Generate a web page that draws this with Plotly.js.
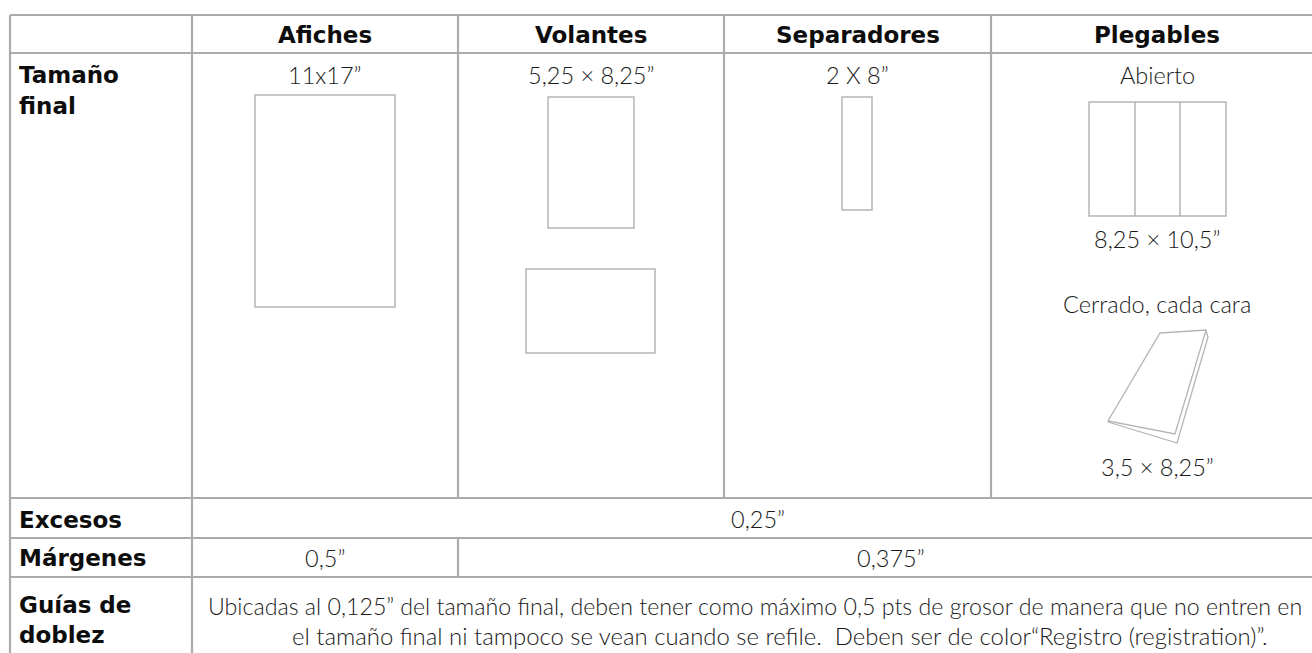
<!DOCTYPE html>
<html><head><meta charset="utf-8">
<script src="https://cdn.plot.ly/plotly-3.0.1.min.js"></script>
<style>html,body{margin:0;padding:0;background:#fff;overflow:hidden}</style>
</head><body><div id="chart" style="width:1312px;height:653px"></div>
<script>
// ---- content ----
const columns = ['Afiches', 'Volantes', 'Separadores', 'Plegables'];
const rowLabels = [['Tamaño', 'final'], ['Excesos'], ['Márgenes'], ['Guías de', 'doblez']];
const sizeLabels = ['11x17”', '5,25 × 8,25”', '2 X 8”', 'Abierto'];
const plegablesLabels = ['8,25 × 10,5”', 'Cerrado, cada cara', '3,5 × 8,25”'];
const excesosValue = '0,25”';
const margenesValues = ['0,5”', '0,375”'];
const guiasText = [
  'Ubicadas al 0,125” del tamaño final, deben tener como máximo 0,5 pts de grosor de manera que no entren en',
  'el tamaño final ni tampoco se vean cuando se refile.&nbsp; Deben ser de color“Registro (registration)”.'
];

// ---- layout geometry (pixels) ----
const W = 1312, H = 653;
const colEdges = [10, 192, 458, 724, 991, 1323];
const rowEdges = [15, 53, 498, 538, 577, 700];
const gridColor = '#ababab', figColor = '#b5b5b5';
const boldFont = {family: 'DejaVu Sans', size: 23, color: '#0d0d0d', weight: 700};
const lightFont = {family: 'Lato', size: 23.5, color: '#1a1a1a', weight: 300};
const bodyFont = {family: 'Lato', size: 23.2, color: '#1a1a1a', weight: 300};
const bodyFont2 = {family: 'Lato', size: 23.9, color: '#1a1a1a', weight: 300};

const shapes = [];
function line(x0, y0, x1, y1, c, w) {
  shapes.push({type: 'line', xref: 'x', yref: 'y', x0, y0, x1, y1, line: {color: c, width: w}});
}
function rect(x0, y0, x1, y1) {
  shapes.push({type: 'rect', xref: 'x', yref: 'y', x0, y0, x1, y1, line: {color: figColor, width: 1.5}});
}
function path(p) {
  shapes.push({type: 'path', xref: 'x', yref: 'y', path: p, line: {color: figColor, width: 1.3}});
}
// horizontal grid
for (let i = 0; i < rowEdges.length - 1; i++) line(colEdges[0], rowEdges[i], colEdges[5], rowEdges[i], gridColor, 2.2);
// vertical grid
line(colEdges[0], rowEdges[0], colEdges[0], rowEdges[5], gridColor, 2.2);
line(colEdges[1], rowEdges[0], colEdges[1], rowEdges[5], gridColor, 2.2);
line(colEdges[2], rowEdges[0], colEdges[2], rowEdges[2], gridColor, 2.2);
line(colEdges[2], rowEdges[3], colEdges[2], rowEdges[4], gridColor, 2.2);
line(colEdges[3], rowEdges[0], colEdges[3], rowEdges[2], gridColor, 2.2);
line(colEdges[4], rowEdges[0], colEdges[4], rowEdges[2], gridColor, 2.2);
line(colEdges[5], rowEdges[0], colEdges[5], rowEdges[5], gridColor, 2.2);

// size diagrams
rect(255, 95, 395, 307);           // Afiches
rect(548, 97, 634, 228);           // Volantes vertical
rect(526, 269, 655, 353);          // Volantes horizontal
rect(842, 97, 872, 210);           // Separadores
rect(1089, 102, 1226, 216);        // Plegables abierto
line(1135, 102, 1135, 216, figColor, 1.5);
line(1180, 102, 1180, 216, figColor, 1.5);
path('M1160,333 L1206,330 L1175,434 L1108,421 Z');   // cerrado (front)
path('M1206,331 L1208,337 L1177,443 L1108,422');      // cerrado (back)

// ---- annotations ----
const ann = [];
function txt(x, y, t, font, xanchor) {
  ann.push({x, y, xref: 'x', yref: 'y', text: t, showarrow: false, font,
            xanchor: xanchor || 'center', yanchor: 'middle'});
}
const centers = [];
for (let i = 1; i < 5; i++) centers.push((colEdges[i] + colEdges[i + 1]) / 2);
columns.forEach((c, i) => txt(centers[i], 35, c, boldFont));
sizeLabels.forEach((s, i) => txt(centers[i], 75, s, lightFont));
txt(centers[3], 239, plegablesLabels[0], lightFont);
txt(centers[3], 304, plegablesLabels[1], lightFont);
txt(centers[3], 467, plegablesLabels[2], lightFont);

const labelX = 17;
txt(labelX, 75, rowLabels[0][0], boldFont, 'left');
txt(labelX, 106, rowLabels[0][1], boldFont, 'left');
txt(labelX, 520, rowLabels[1][0], boldFont, 'left');
txt(labelX, 558, rowLabels[2][0], boldFont, 'left');
txt(labelX, 605, rowLabels[3][0], boldFont, 'left');
txt(labelX, 635, rowLabels[3][1], boldFont, 'left');

const spanCenter = (colEdges[1] + colEdges[5]) / 2;
txt(spanCenter, 519, excesosValue, lightFont);
txt(centers[0], 558, margenesValues[0], lightFont);
txt((colEdges[2] + colEdges[5]) / 2, 558, margenesValues[1], lightFont);
txt(755, 606, guiasText[0], bodyFont);
txt(780, 635, guiasText[1], bodyFont2);

const layout = {
  width: W, height: H,
  margin: {l: 0, r: 0, t: 0, b: 0},
  paper_bgcolor: '#fff', plot_bgcolor: '#fff',
  xaxis: {range: [0, W], visible: false, fixedrange: true},
  yaxis: {range: [H, 0], visible: false, fixedrange: true},
  showlegend: false,
  shapes, annotations: ann
};
Plotly.newPlot('chart', [{x: [], y: [], type: 'scatter', hoverinfo: 'skip'}], layout, {staticPlot: true});
</script></body></html>
